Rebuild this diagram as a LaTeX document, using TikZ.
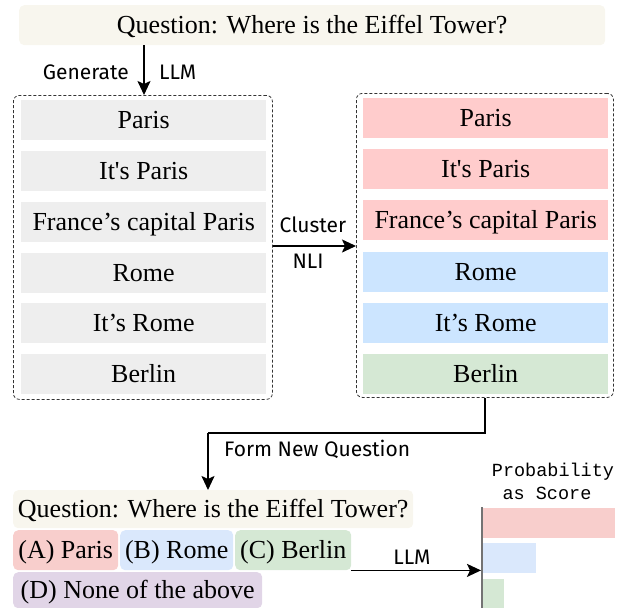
\documentclass[tikz,border=0pt]{standalone}
\usepackage{fontspec}
\setmainfont{Liberation Serif}
\newfontfamily\comicf{Fira Sans}
\newfontfamily\monof{Liberation Mono}
\usetikzlibrary{arrows.meta}
\definecolor{qbg}{HTML}{F8F6EE}
\definecolor{grayb}{HTML}{EEEEEE}
\definecolor{redb}{HTML}{FFCCCC}
\definecolor{blueb}{HTML}{CCE5FF}
\definecolor{greenb}{HTML}{D5E8D4}
\definecolor{redo}{HTML}{F8CECC}
\definecolor{blueo}{HTML}{DAE8FC}
\definecolor{greeno}{HTML}{D5E8D4}
\definecolor{purpo}{HTML}{E1D5E7}
\begin{document}
\begin{tikzpicture}[x=1pt,y=-1pt,
  serif/.style={font=\fontsize{26}{30}\selectfont, text height=17pt, text depth=0pt},
  item/.style={rectangle, inner sep=0pt, minimum width=245pt, minimum height=40pt, serif, anchor=north west},
  opt/.style={rectangle, rounded corners=5pt, inner sep=0pt, minimum height=40pt, serif, anchor=north west},
  dbox/.style={rectangle, draw=black!80, line width=0.8pt, dash pattern=on 3pt off 2pt, rounded corners=6pt, inner sep=0pt, anchor=north west},
  lab/.style={font=\comicf\fontsize{21}{24}\selectfont, inner sep=0pt},
  mono/.style={font=\monof\fontsize{18.5}{21}\selectfont, inner sep=0pt},
  arr/.style={line width=1.8pt, -{Stealth[length=14pt,width=13pt,inset=3pt]}},
  conn/.style={line width=1.8pt}
]
\useasboundingbox (0,0) rectangle (627,608);

% top question
\node[opt, fill=qbg, minimum width=586pt] (top) at (19,5) {Question: Where is the Eiffel Tower?};

% dashed containers
\node[dbox, minimum width=259pt, minimum height=304pt] (L) at (13,95) {};
\node[dbox, minimum width=257pt, minimum height=304pt] (R) at (356,93) {};

% left column
\node[item, fill=grayb] (l1) at (21,100) {Paris};
\node[item, fill=grayb] (l2) at (21,150.8) {It\textquotesingle s Paris};
\node[item, fill=grayb] (l3) at (21,201.6) {France’s capital Paris};
\node[item, fill=grayb] (l4) at (21,252.4) {Rome};
\node[item, fill=grayb] (l5) at (21,303.2) {It’s Rome};
\node[item, fill=grayb] (l6) at (21,354) {Berlin};

% right column
\node[item, fill=redb] (r1) at (363,97.5) {Paris};
\node[item, fill=redb] (r2) at (363,148.8) {It\textquotesingle s Paris};
\node[item, fill=redb] (r3) at (363,200.1) {France’s capital Paris};
\node[item, fill=blueb] (r4) at (363,251.4) {Rome};
\node[item, fill=blueb] (r5) at (363,302.7) {It’s Rome};
\node[item, fill=greenb] (r6) at (363,354) {Berlin};

% generate arrow
\coordinate (g) at (144,0);
\draw[arr] (g |- top.south) -- (g |- L.north);
\node[lab, anchor=east] (gen) at (129,72) {Generate};
\node[lab, anchor=west] (llm1) at (159,72) {LLM};

% cluster arrow
\coordinate (c) at (0,246);
\draw[arr] (c -| L.east) -- (c -| R.west);
\node[lab] (clu) at (313,225) {Cluster};
\node[lab] (nli) at (308,261) {NLI};

% bottom question and options
\node[opt, fill=qbg, minimum width=400pt, minimum height=38pt] (q2) at (13,490) {Question: Where is the Eiffel Tower?};
\node[opt, fill=redo, minimum width=105pt] (oa) at (13,530) {(A) Paris};
\node[opt, fill=blueo, minimum width=113pt] (ob) at (120,530) {(B) Rome};
\node[opt, fill=greeno, minimum width=116pt] (oc) at (235,530) {(C) Berlin};
\node[opt, fill=purpo, minimum width=249pt, minimum height=36pt] (od) at (13,572) {(D) None of the above};

% form new question connector
\coordinate (fq) at (208,433);
\draw[conn] (R.south) |- (fq);
\draw[arr] (fq) -- (fq |- q2.north);
\node[lab, anchor=west] (fnq) at (224,449) {Form New Question};

% chart
\coordinate (ax) at (481,0);
\node[rectangle, fill=redo, inner sep=0pt, minimum width=132pt, minimum height=30pt, anchor=north west] (b1) at (483,508) {};
\node[rectangle, fill=blueo, inner sep=0pt, minimum width=53pt, minimum height=30pt, anchor=north west] (b2) at (483,543) {};
\node[rectangle, fill=greeno, inner sep=0pt, minimum width=21pt, minimum height=29pt, anchor=north west] (b3) at (483,579) {};
\draw[line width=2pt, black!55] (482,507) -- (482,608);
\node[mono] (p1) at (553,472) {Probability};
\node[mono] (p2) at (547,493) {as Score};

% LLM arrow
\draw[arr] (oc.south east) -- (oc.south east -| ax);
\node[lab] (llm2) at (412,557) {LLM};
\end{tikzpicture}
\end{document}
